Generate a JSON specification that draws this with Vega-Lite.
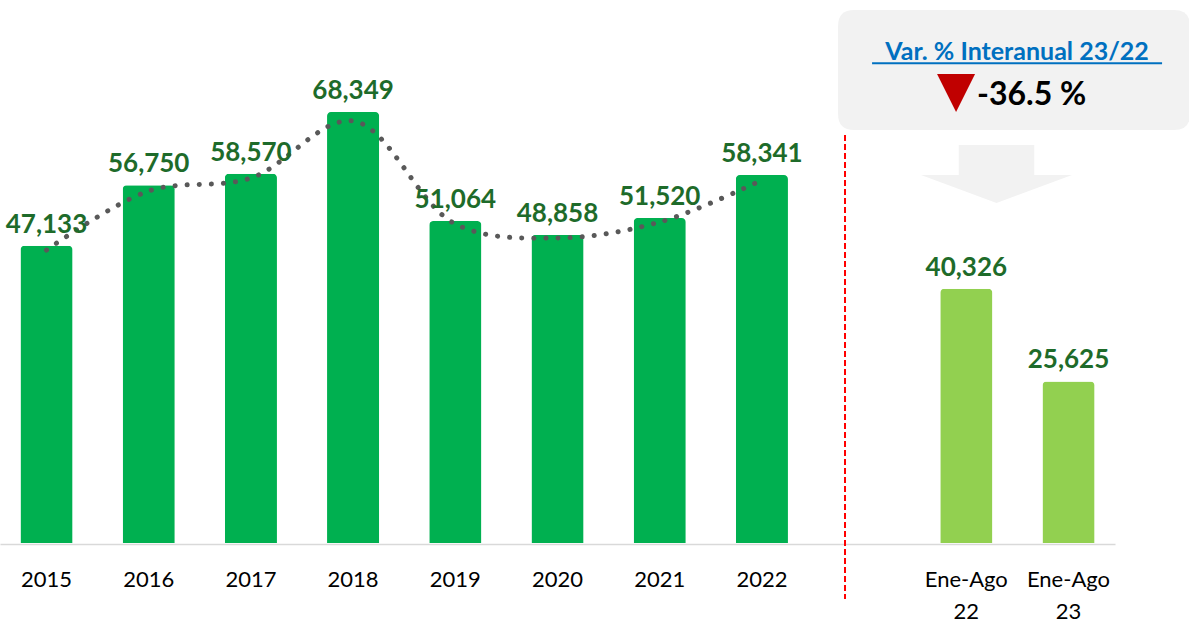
{
  "$schema": "https://vega.github.io/schema/vega-lite/v6.json",
  "width": 1115,
  "height": 544,
  "padding": {"left": 0, "top": 0, "right": 74, "bottom": 77},
  "autosize": {"type": "none"},
  "background": "white",
  "config": {"view": {"stroke": null}, "font": "Lato"},
  "datasets": {
    "bars": [
      {"cat": "2015", "value": 47133, "periodo": "Anual"},
      {"cat": "2016", "value": 56750, "periodo": "Anual"},
      {"cat": "2017", "value": 58570, "periodo": "Anual"},
      {"cat": "2018", "value": 68349, "periodo": "Anual"},
      {"cat": "2019", "value": 51064, "periodo": "Anual"},
      {"cat": "2020", "value": 48858, "periodo": "Anual"},
      {"cat": "2021", "value": 51520, "periodo": "Anual"},
      {"cat": "2022", "value": 58341, "periodo": "Anual"},
      {"cat": "Ene-Ago 22", "value": 40326, "periodo": "Ene-Ago"},
      {"cat": "Ene-Ago 23", "value": 25625, "periodo": "Ene-Ago"}
    ],
    "trend": [
      {"cat": "2015", "trend": 46460},
      {"cat": "2016", "trend": 55820},
      {"cat": "2017", "trend": 57880},
      {"cat": "2018", "trend": 66920},
      {"cat": "2019", "trend": 50590},
      {"cat": "2020", "trend": 48370},
      {"cat": "2021", "trend": 50900},
      {"cat": "2022", "trend": 57560}
    ],
    "note": [
      {"cat": "Ene-Ago 22", "titulo": "Var. % Interanual 23/22", "variacion": "-36.5 %"}
    ]
  },
  "encoding": {
    "x": {
      "field": "cat",
      "type": "nominal",
      "sort": null,
      "scale": {
        "domain": ["2015", "2016", "2017", "2018", "2019", "2020", "2021", "2022", " ", "Ene-Ago 22", "Ene-Ago 23"],
        "paddingInner": 0.49,
        "paddingOuter": 0.2
      },
      "axis": {
        "title": null,
        "domainColor": "#d9d9d9",
        "domainWidth": 1.5,
        "ticks": false,
        "tickSize": 0,
        "labelAngle": 0,
        "labelFont": "Lato",
        "labelFontSize": 22,
        "labelColor": "#000000",
        "labelBaseline": "alphabetic",
        "labelPadding": 42,
        "labelLineHeight": 32,
        "labelOverlap": false,
        "labelBound": false,
        "labelExpr": "split(datum.label, ' ')"
      }
    }
  },
  "layer": [
    {
      "data": {"name": "bars"},
      "mark": {"type": "bar", "cornerRadiusTopLeft": 4, "cornerRadiusTopRight": 4},
      "encoding": {
        "y": {
          "field": "value",
          "type": "quantitative",
          "scale": {"domain": [-160, 86110], "nice": false, "zero": false},
          "axis": null
        },
        "color": {
          "field": "periodo",
          "type": "nominal",
          "scale": {"domain": ["Anual", "Ene-Ago"], "range": ["#00B050", "#92D050"]},
          "legend": null
        }
      }
    },
    {
      "data": {"name": "trend"},
      "mark": {
        "type": "line",
        "color": "#595959",
        "strokeWidth": 5,
        "strokeCap": "round",
        "strokeDash": [0.1, 12],
        "interpolate": "catmull-rom"
      },
      "encoding": {
        "y": {"field": "trend", "type": "quantitative"}
      }
    },
    {
      "data": {"name": "bars"},
      "mark": {
        "type": "text",
        "font": "Lato",
        "fontWeight": "bold",
        "fontSize": 26,
        "color": "#1E6B2A",
        "baseline": "alphabetic",
        "dy": -13
      },
      "encoding": {
        "y": {"field": "value", "type": "quantitative"},
        "text": {"field": "value", "type": "quantitative", "format": ",d"}
      }
    },
    {
      "data": {"name": "note"},
      "mark": {
        "type": "point",
        "filled": true,
        "fill": "#f2f2f2",
        "opacity": 1,
        "strokeWidth": 0,
        "shape": "M-0.909,-0.341L0.909,-0.341Q1,-0.341,1,-0.25L1,0.25Q1,0.341,0.909,0.341L-0.909,0.341Q-1,0.341,-1,0.25L-1,-0.25Q-1,-0.341,-0.909,-0.341Z",
        "size": 123904
      },
      "encoding": {
        "x": {"field": "cat", "type": "nominal", "sort": null, "bandPosition": 1.416},
        "y": {"datum": 75010, "type": "quantitative"}
      }
    },
    {
      "data": {"name": "note"},
      "mark": {
        "type": "point",
        "filled": true,
        "fill": "#f2f2f2",
        "opacity": 1,
        "strokeWidth": 0,
        "shape": "M-0.5,-0.384L0.5,-0.384L0.5,0.013L1,0.013L0,0.384L-1,0.013L-0.5,0.013Z",
        "size": 22801
      },
      "encoding": {
        "x": {"field": "cat", "type": "nominal", "sort": null, "bandPosition": 1.08},
        "y": {"datum": 58520, "type": "quantitative"}
      }
    },
    {
      "data": {"name": "note"},
      "mark": {"type": "rule", "color": "#ff0000", "strokeWidth": 2, "strokeDash": [6, 3]},
      "encoding": {
        "x": {"field": "cat", "type": "nominal", "sort": null, "bandPosition": -1.827},
        "y": {"datum": 64700, "type": "quantitative"},
        "y2": {"datum": -8880}
      }
    },
    {
      "data": {"name": "note"},
      "mark": {
        "type": "text",
        "font": "Lato",
        "fontWeight": "bold",
        "fontSize": 25,
        "color": "#0070C0",
        "align": "center",
        "baseline": "alphabetic"
      },
      "encoding": {
        "x": {"field": "cat", "type": "nominal", "sort": null, "bandPosition": 1.474},
        "y": {"datum": 76590, "type": "quantitative"},
        "text": {"field": "titulo", "type": "nominal"}
      }
    },
    {
      "data": {"name": "note"},
      "mark": {
        "type": "point",
        "filled": true,
        "fill": "#0070C0",
        "opacity": 1,
        "strokeWidth": 0,
        "shape": "M-1,-0.0069L1,-0.0069L1,0.0069L-1,0.0069Z",
        "size": 84100
      },
      "encoding": {
        "x": {"field": "cat", "type": "nominal", "sort": null, "bandPosition": 1.474},
        "y": {"datum": 76070, "type": "quantitative"}
      }
    },
    {
      "data": {"name": "note"},
      "mark": {
        "type": "point",
        "filled": true,
        "fill": "#C00000",
        "opacity": 1,
        "strokeWidth": 0,
        "shape": "M-1,-1L1,-1L0,1Z",
        "size": 1444
      },
      "encoding": {
        "x": {"field": "cat", "type": "nominal", "sort": null, "bandPosition": 0.303},
        "y": {"datum": 71360, "type": "quantitative"}
      }
    },
    {
      "data": {"name": "note"},
      "mark": {
        "type": "text",
        "font": "Lato",
        "fontWeight": "bold",
        "fontSize": 32,
        "color": "#000000",
        "align": "left",
        "baseline": "alphabetic"
      },
      "encoding": {
        "x": {"field": "cat", "type": "nominal", "sort": null, "bandPosition": 0.706},
        "y": {"datum": 69460, "type": "quantitative"},
        "text": {"field": "variacion", "type": "nominal"}
      }
    }
  ]
}
